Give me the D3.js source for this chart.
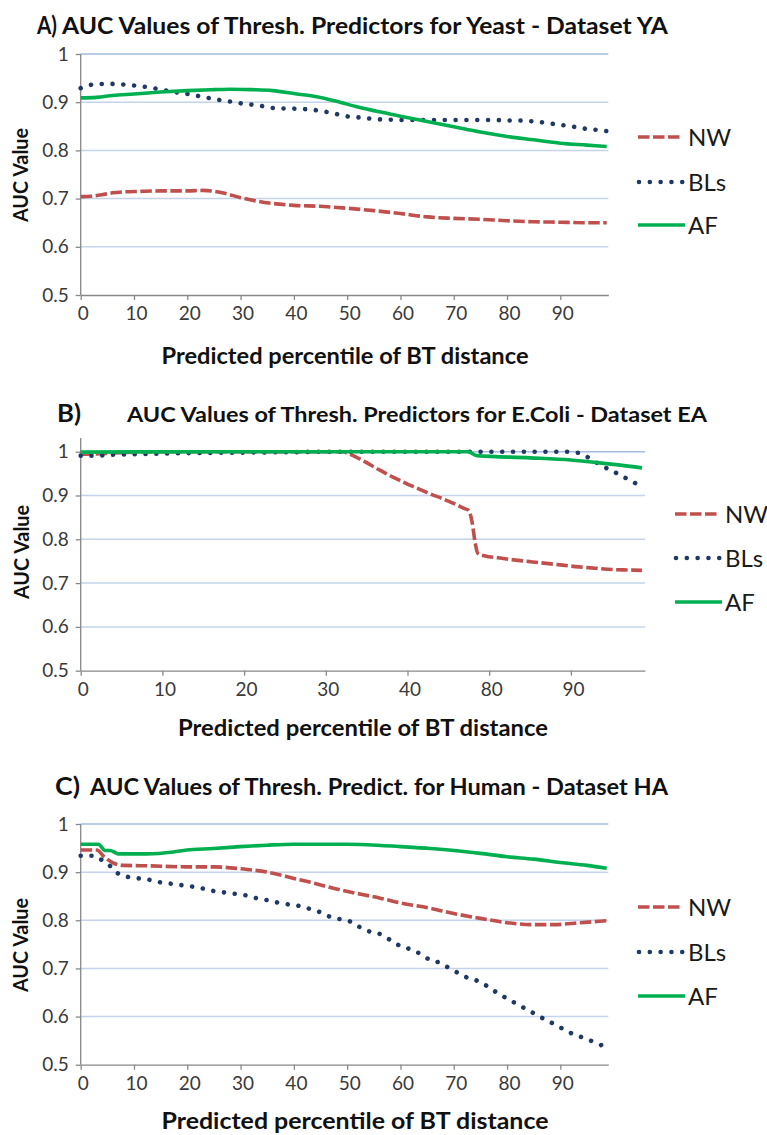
<!DOCTYPE html>
<html><head><meta charset="utf-8">
<script src="https://cdn.jsdelivr.net/npm/d3@7"></script>
<style>body{margin:0;background:#fff}text{font-family:Lato,"Open Sans",sans-serif}</style>
</head><body><svg id="c" width="767" height="1135"></svg>
<script>
const seriesNames = ["NW", "BLs", "AF"];
const yTicks = [0.5, 0.6, 0.7, 0.8, 0.9, 1];
const yTickLabels = ["0.5", "0.6", "0.7", "0.8", "0.9", "1"];
const xTicksAC = [0, 10, 20, 30, 40, 50, 60, 70, 80, 90];
const xTicksB = [0, 10, 20, 30, 40, 50, 60];
const xTickLabelsB = ["0", "10", "20", "30", "40", "80", "90"];
const titles = ["AUC Values of Thresh. Predictors for Yeast - Dataset YA",
  "AUC Values of Thresh. Predictors for E.Coli - Dataset EA",
  "AUC Values of Thresh. Predict. for Human - Dataset HA"];
const panelTags = ["A)", "B)", "C)"];

const nwA = [[0,0.704],[2,0.705],[4,0.708],[6,0.712],[8,0.714],[11,0.715],[15,0.716],[20,0.716],[23,0.717],[25,0.715],[27,0.711],[30,0.702],[33,0.695],[36,0.690],[40,0.686],[45,0.684],[50,0.680],[55,0.675],[60,0.669],[65,0.662],[70,0.659],[75,0.657],[80,0.654],[85,0.652],[90,0.651],[95,0.650],[98.7,0.650]];
const blA = [[0,0.929],[2.5,0.937],[4.6,0.938],[6.6,0.938],[8.6,0.936],[10.6,0.934],[12.7,0.931],[14.7,0.927],[16.7,0.923],[18.8,0.919],[20.8,0.916],[22.8,0.911],[24.9,0.907],[26.9,0.903],[28.9,0.900],[30.9,0.896],[32.9,0.894],[35,0.890],[37,0.887],[39,0.887],[41,0.886],[43,0.885],[45,0.882],[47,0.878],[49,0.873],[51,0.869],[53,0.868],[55,0.865],[57.4,0.864],[60,0.863],[70,0.863],[78,0.863],[80,0.862],[82,0.862],[84,0.861],[86,0.859],[88,0.856],[90,0.853],[92,0.850],[94,0.846],[96.4,0.843],[98.7,0.840]];
const afA = [[0,0.909],[3,0.910],[6,0.914],[10,0.917],[15,0.921],[20,0.924],[25,0.926],[28,0.927],[32,0.926],[36,0.924],[40,0.918],[44,0.912],[48,0.902],[52,0.890],[56,0.880],[60,0.871],[65,0.860],[70,0.849],[75,0.838],[80,0.829],[85,0.822],[90,0.815],[95,0.811],[98.7,0.808]];

const nwB = [[0,0.994],[2,0.995],[4,0.997],[7,0.999],[10,1.0],[32,1.0],[33,0.994],[34,0.985],[35,0.975],[36,0.964],[37,0.954],[38,0.944],[39,0.935],[40,0.926],[41,0.918],[42,0.910],[43,0.902],[44,0.895],[45,0.887],[46,0.879],[47,0.870],[47.5,0.866],[47.9,0.84],[48.3,0.79],[48.6,0.768],[49.5,0.762],[51,0.758],[53,0.753],[55,0.749],[57,0.745],[59,0.741],[61,0.737],[63,0.734],[65,0.731],[67,0.730],[68.7,0.729]];
const blB = [[0,0.991],[2,0.991],[4,0.993],[6,0.994],[8,0.995],[10,0.996],[14,0.997],[20,0.998],[26,0.999],[30,1.0],[59.5,1.0],[61,0.997],[62.2,0.986],[63.4,0.972],[64.5,0.961],[65.7,0.950],[66.9,0.938],[68.1,0.926]];
const afB = [[0,0.999],[20,1.0],[47.4,1.0],[48.5,0.991],[55,0.986],[60,0.981],[63.3,0.975],[68.7,0.963]];

const nwC = [[0,0.946],[3,0.946],[4.4,0.932],[6.3,0.918],[8.1,0.914],[13.1,0.913],[20,0.911],[25,0.911],[30,0.907],[35,0.900],[40,0.887],[43.8,0.877],[47.6,0.866],[52.6,0.854],[56.2,0.846],[60,0.836],[65.6,0.825],[70,0.814],[75,0.804],[80,0.795],[85,0.791],[88.7,0.791],[93.8,0.795],[98.7,0.799]];
const blC = [[0,0.934],[2.5,0.934],[4.1,0.924],[5.5,0.913],[6.9,0.898],[8.9,0.890],[10.9,0.887],[12.9,0.884],[14.9,0.879],[16.9,0.876],[18.9,0.873],[20.9,0.870],[22.9,0.866],[24.9,0.861],[26.9,0.858],[28.9,0.855],[30.9,0.852],[32.9,0.846],[34.9,0.842],[36.9,0.837],[38.9,0.833],[40.9,0.830],[42.9,0.824],[44.9,0.817],[46.9,0.807],[48.8,0.802],[50.7,0.797],[52.5,0.785],[54.4,0.776],[56.3,0.771],[58.1,0.759],[59.9,0.747],[61.8,0.740],[63.6,0.731],[65.5,0.718],[67.3,0.712],[69.1,0.701],[70.9,0.690],[72.7,0.680],[74.5,0.674],[76.3,0.663],[78.2,0.649],[79.9,0.638],[81.7,0.627],[83.5,0.616],[85.3,0.605],[87.1,0.594],[88.9,0.584],[90.7,0.573],[92.5,0.563],[94.6,0.555],[96.5,0.546],[98.3,0.538]];
const afC = [[0,0.958],[3.3,0.958],[4.6,0.945],[5.5,0.945],[7.1,0.938],[12.4,0.938],[17.4,0.942],[19.9,0.946],[24.9,0.949],[29.9,0.953],[34.9,0.956],[39.9,0.958],[44.9,0.958],[49.9,0.958],[53.7,0.957],[60,0.953],[65.6,0.949],[70,0.945],[75,0.939],[80,0.932],[85,0.927],[90,0.920],[95,0.914],[98.7,0.908]];

const styles = {
  NW: {stroke: "#C0504D", width: 3.6, dash: "11.5 3.5", cap: "butt"},
  BLs: {stroke: "#1F3864", width: 4.6, dash: "0.01 10.8", cap: "round"},
  AF: {stroke: "#00B050", width: 3.6, dash: null, cap: "butt"}
};

const svg = d3.select("#c");
svg.append("rect").attr("width", 767).attr("height", 1135).attr("fill", "#fff");

const panels = [
  {data: [nwA, blA, afA], xDom: [0, 99], xR: [80.7, 608.3], yR: [295, 54], axisTop: 54,
   ticks: xTicksAC, tickLab: xTicksAC.map(String),
   tag: [37, 34, 20], title: [62, 34, 606, 22], ylab: [22, 175], xt: [345, 364, 367],
   leg: {x0: 638, x1: 680, tx: 688, ys: [137, 182, 225]}},
  {data: [nwB, blB, afB], xDom: [0, 69.07], xR: [80.7, 645], yR: [670.7, 451.7], axisTop: 438,
   ticks: xTicksB, tickLab: xTickLabelsB,
   tag: [57, 422, 24], title: [127, 422, 580, 21], ylab: [23, 552], xt: [363, 736, 370],
   leg: {x0: 675, x1: 717, tx: 725, ys: [514, 558, 602]}},
  {data: [nwC, blC, afC], xDom: [0, 99], xR: [80.7, 608.3], yR: [1064.7, 824], axisTop: 824,
   ticks: xTicksAC, tickLab: xTicksAC.map(String),
   tag: [55, 795, 25], title: [90, 795, 578, 22], ylab: [22, 945], xt: [355, 1129, 387],
   leg: {x0: 638, x1: 680, tx: 688, ys: [907, 952, 996]}}
];

panels.forEach((p, pi) => {
  const x = d3.scaleLinear().domain(p.xDom).range(p.xR);
  const y = d3.scaleLinear().domain([0.5, 1]).range(p.yR);
  const g = svg.append("g");
  g.selectAll("line.grid").data(yTicks.slice(1)).join("line")
    .attr("x1", p.xR[0]).attr("x2", p.xR[1])
    .attr("y1", d => y(d)).attr("y2", d => y(d))
    .attr("stroke", d => d === 1 ? "#A3BCE0" : "#C3D4EC").attr("stroke-width", 1.5);
  const ya = g.append("g").attr("transform", `translate(${p.xR[0]},0)`)
    .call(d3.axisLeft(y).tickValues(yTicks).tickFormat((d, i) => yTickLabels[i]).tickSize(5).tickPadding(7).tickSizeOuter(0));
  ya.select(".domain").attr("d", `M0,${p.axisTop}V${p.yR[0]}`).attr("stroke", "#888").attr("stroke-width", 1.3);
  ya.selectAll(".tick line").attr("stroke", "#888").attr("stroke-width", 1.3);
  ya.selectAll(".tick text").attr("font-size", 19).attr("fill", "#3a3a3a").attr("font-family", "Lato");
  const xa = g.append("g").attr("transform", `translate(0,${p.yR[0]})`)
    .call(d3.axisBottom(x).tickValues(p.ticks).tickFormat((d, i) => p.tickLab[i]).tickSize(5).tickPadding(7).tickSizeOuter(0));
  xa.select(".domain").attr("stroke", "#888").attr("stroke-width", 1.3);
  xa.selectAll(".tick line").attr("stroke", "#888").attr("stroke-width", 1.3);
  xa.selectAll(".tick text").attr("font-size", 19).attr("fill", "#3a3a3a").attr("font-family", "Lato").attr("dx", 2);
  const line = d3.line().x(d => x(d[0])).y(d => y(d[1])).curve(d3.curveMonotoneX);
  p.data.forEach((s, si) => {
    const st = styles[seriesNames[si]];
    g.append("path").attr("d", line(s)).attr("fill", "none")
      .attr("stroke", st.stroke).attr("stroke-width", st.width)
      .attr("stroke-dasharray", st.dash).attr("stroke-linecap", st.cap).attr("stroke-linejoin", "round");
  });
  seriesNames.forEach((n, si) => {
    const st = styles[n];
    const ly = p.leg.ys[si];
    g.append("line").attr("x1", p.leg.x0 + (n === "BLs" ? 1 : 0)).attr("x2", p.leg.x1 + (n === "BLs" ? 3 : (n === "AF" ? 5 : 0)))
      .attr("y1", ly).attr("y2", ly)
      .attr("stroke", st.stroke).attr("stroke-width", st.width)
      .attr("stroke-dasharray", st.dash).attr("stroke-linecap", st.cap);
    g.append("text").attr("x", p.leg.tx).attr("y", ly + 8.5).attr("font-size", 24).attr("fill", "#1a1a1a").text(n);
  });
  g.append("text").attr("x", p.tag[0]).attr("y", p.tag[1]).attr("font-size", 25).attr("font-weight", "bold").attr("fill", "#111")
    .attr("textLength", p.tag[2]).attr("lengthAdjust", "spacingAndGlyphs").text(panelTags[pi]);
  g.append("text").attr("x", p.title[0]).attr("y", p.title[1]).attr("font-size", p.title[3]).attr("font-weight", "bold").attr("fill", "#111")
    .attr("textLength", p.title[2]).attr("lengthAdjust", "spacingAndGlyphs").text(titles[pi]);
  g.append("text").attr("transform", `translate(${p.ylab[0] + 6},${p.ylab[1]}) rotate(-90)`).attr("text-anchor", "middle")
    .attr("font-size", 21).attr("font-weight", "bold").attr("fill", "#111")
    .attr("textLength", 94).attr("lengthAdjust", "spacingAndGlyphs").text("AUC Value");
  g.append("text").attr("x", p.xt[0]).attr("y", p.xt[1]).attr("text-anchor", "middle")
    .attr("font-size", 22).attr("font-weight", "bold").attr("fill", "#111")
    .attr("textLength", p.xt[2]).attr("lengthAdjust", "spacingAndGlyphs").text("Predicted percentile of BT distance");
});
</script></body></html>
